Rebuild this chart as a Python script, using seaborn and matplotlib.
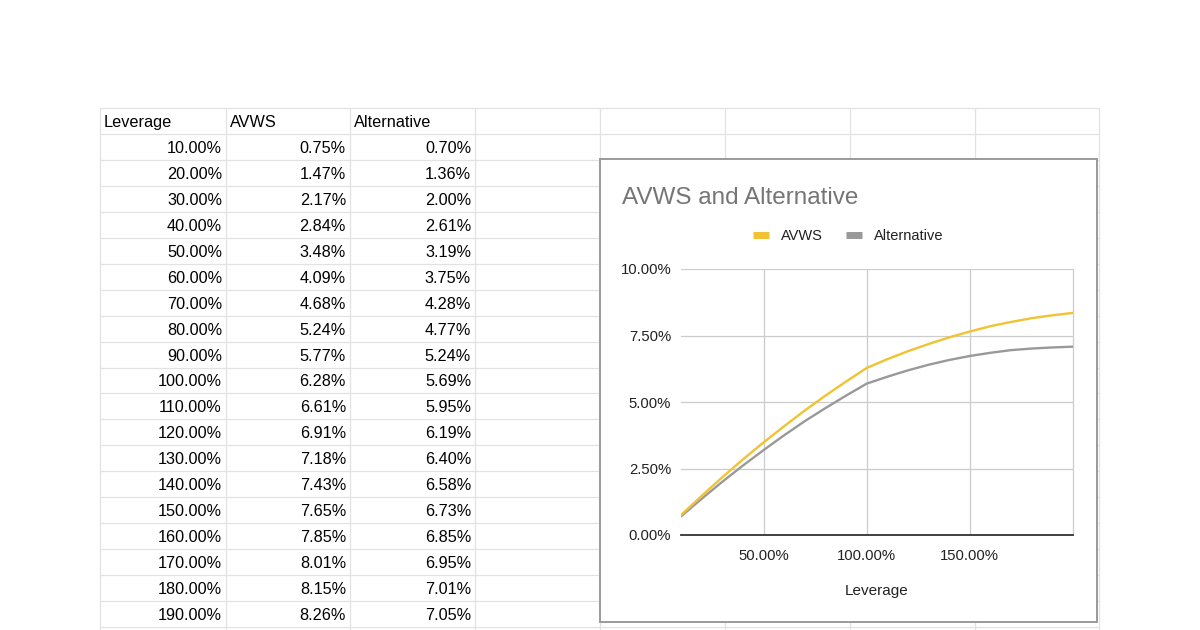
import matplotlib
matplotlib.use("Agg")
import matplotlib.pyplot as plt
from matplotlib.lines import Line2D
from matplotlib.patches import Rectangle
from matplotlib.ticker import FuncFormatter, FixedLocator
import seaborn as sns
import pandas as pd

# ---- data ----
leverage = [10, 20, 30, 40, 50, 60, 70, 80, 90, 100, 110, 120, 130, 140, 150, 160, 170, 180, 190, 200]
avws = [0.75, 1.47, 2.17, 2.84, 3.48, 4.09, 4.68, 5.24, 5.77, 6.28, 6.61, 6.91, 7.18, 7.43, 7.65, 7.85, 8.01, 8.15, 8.26, 8.35]
alternative = [0.70, 1.36, 2.00, 2.61, 3.19, 3.75, 4.28, 4.77, 5.24, 5.69, 5.95, 6.19, 6.40, 6.58, 6.73, 6.85, 6.95, 7.01, 7.05, 7.08]
headers = ["Leverage", "AVWS", "Alternative"]
series_names = ["AVWS", "Alternative"]
chart_title = "AVWS and Alternative"
x_label = "Leverage"
y_ticks = [0, 2.5, 5, 7.5, 10]
x_ticks = [50, 100, 150]
visible_rows = 19

sns.set_theme(style="white")
plt.rcParams["font.family"] = ["Liberation Sans", "DejaVu Sans"]

W, H = 1200, 630
fig = plt.figure(figsize=(12, 6.3), dpi=100)
fig.patch.set_facecolor("white")

# background "spreadsheet" axes in pixel coordinates
bg = fig.add_axes([0, 0, 1, 1])
bg.set_xlim(0, W)
bg.set_ylim(H, 0)
bg.axis("off")

grid_c = "#e2e2e2"
col_x = [100, 226, 350, 475, 600, 725, 850, 975, 1099]
row_top = 108
row_h = 25.95
n_lines = 21
for k in range(n_lines):
    y = row_top + k * row_h
    bg.plot([col_x[0], col_x[-1]], [y, y], color=grid_c, lw=0.9, zorder=1)
for x in col_x:
    bg.plot([x, x], [row_top, H], color=grid_c, lw=0.9, zorder=1)

# header
for j, h in enumerate(headers):
    bg.text(col_x[j] + 4, row_top + row_h / 2 + 1.5, h, fontsize=11.7, color="#000000",
            ha="left", va="center", zorder=3)
# rows
for i in range(visible_rows):
    yc = row_top + (i + 1.5) * row_h + 1.5
    vals = [leverage[i], avws[i], alternative[i]]
    for j, v in enumerate(vals):
        bg.text(col_x[j + 1] - 4, yc, f"{v:.2f}%", fontsize=11.7, color="#000000",
                ha="right", va="center", zorder=3)

# chart box
bg.add_patch(Rectangle((600, 159), 497, 463, facecolor="white", edgecolor="#9a9a9a",
                       lw=1.4, zorder=4))

# title
bg.text(622, 198, chart_title, fontsize=17.5, color="#757575", ha="left", va="center", zorder=5)

# ---- chart axes ----
ax_l, ax_r, ax_t, ax_b = 681, 1073, 269, 535
ax = fig.add_axes([ax_l / W, 1 - ax_b / H, (ax_r - ax_l) / W, (ax_b - ax_t) / H])
ax.set_zorder(6)
ax.set_facecolor("white")

df = pd.DataFrame({
    "Leverage": leverage * 2,
    "Value": avws + alternative,
    "Series": [series_names[0]] * len(leverage) + [series_names[1]] * len(leverage),
})
colors = {"AVWS": "#f1c232", "Alternative": "#999999"}
sns.lineplot(data=df, x="Leverage", y="Value", hue="Series", palette=colors,
             hue_order=series_names[::-1], linewidth=1.7, legend=False, ax=ax, zorder=3)

ax.set_xlim(10, 200)
ax.set_ylim(0, 10)
ax.yaxis.set_major_locator(FixedLocator(y_ticks))
ax.xaxis.set_major_locator(FixedLocator(x_ticks))
fmt = FuncFormatter(lambda v, p: f"{v:.2f}%")
ax.yaxis.set_major_formatter(fmt)
ax.xaxis.set_major_formatter(fmt)
ax.grid(True, color="#cccccc", lw=0.9)
ax.set_axisbelow(True)
ax.spines["left"].set_visible(False)
ax.spines["top"].set_visible(False)
ax.spines["right"].set_color("#cccccc")
ax.spines["right"].set_linewidth(0.9)
ax.spines["bottom"].set_color("#333333")
ax.spines["bottom"].set_linewidth(1.3)
ax.tick_params(axis="both", length=0, labelsize=10.7, colors="#222222")
ax.tick_params(axis="y", pad=7)
ax.tick_params(axis="x", pad=10)
ax.set_ylabel("")
ax.set_xlabel(x_label, fontsize=11, color="#222222")
ax.xaxis.set_label_coords(0.5, -(591 - ax_b) / (ax_b - ax_t))
ax.xaxis.label.set_va("center")

handles = [Line2D([0], [0], color=colors[n], lw=5, solid_capstyle="butt") for n in series_names]
leg = fig.legend(handles, series_names, loc="center", bbox_to_anchor=(848 / W, 1 - 236 / H),
                 ncol=2, frameon=False, fontsize=10.5, handlelength=1.1, handletextpad=0.8,
                 columnspacing=1.6)
for t in leg.get_texts():
    t.set_color("#222222")
leg.set_zorder(10)

fig.savefig("out.png", dpi=100, facecolor="white")
